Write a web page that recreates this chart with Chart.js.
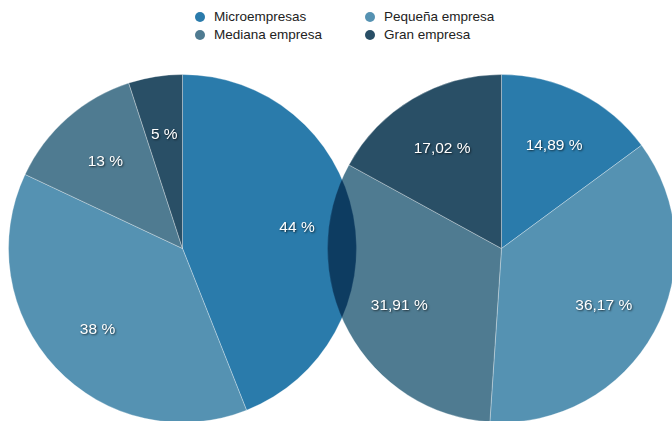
<!DOCTYPE html>
<html>
<head>
<meta charset="utf-8">
<script src="https://cdn.jsdelivr.net/npm/chart.js@4/dist/chart.umd.min.js"></script>
<style>
  html, body { margin: 0; padding: 0; background: #fff; width: 672px; height: 421px; overflow: hidden; position: relative; }
  canvas { position: absolute; }
  #pieLeft { left: 8px; top: 74px; }
  #pieRight { left: 327px; top: 74px; mix-blend-mode: multiply; }
  #legend { position: absolute; left: 195px; top: 9px; margin: 0; padding: 0; list-style: none;
    display: grid; grid-template-columns: 170px 140px; row-gap: 3px;
    font: 13.5px "Helvetica Neue", Helvetica, "Liberation Sans", Arial, sans-serif; color: #222; }
  #legend li { display: flex; align-items: center; height: 15px; }
  #legend span { display: inline-block; width: 10px; height: 10px; border-radius: 50%; margin-right: 9px; }
</style>
</head>
<body>
<ul id="legend"></ul>
<canvas id="pieLeft" width="349" height="349"></canvas>
<canvas id="pieRight" width="349" height="349"></canvas>
<script>
// datos
const categorias = ["Microempresas", "Pequeña empresa", "Mediana empresa", "Gran empresa"];
const valoresIzq = [44, 38, 13, 5];
const valoresDer = [14.89, 36.17, 31.91, 17.02];
const colores = ["#2a7bab", "#5592b2", "#4f7b91", "#294f66"];

// etiquetas de porcentaje dentro de cada porción
const etiquetas = {
    id: "etiquetas",
    afterDatasetsDraw(chart) {
        const ctx = chart.ctx;
        const meta = chart.getDatasetMeta(0);
        const datos = chart.data.datasets[0].data;
        ctx.save();
        ctx.font = "15.5px 'Helvetica Neue', Helvetica, 'Liberation Sans', Arial, sans-serif";
        ctx.fillStyle = "#fff";
        ctx.textAlign = "center";
        ctx.textBaseline = "middle";
        ctx.shadowColor = "rgba(0,0,0,0.65)";
        ctx.shadowBlur = 2;
        ctx.shadowOffsetX = 1;
        ctx.shadowOffsetY = 1;
        meta.data.forEach((arc, i) => {
            const a = (arc.startAngle + arc.endAngle) / 2;
            const r = arc.outerRadius * 0.67;
            const texto = String(datos[i]).replace(".", ",") + " %";
            ctx.fillText(texto, arc.x + Math.cos(a) * r, arc.y + Math.sin(a) * r + 1);
        });
        ctx.restore();
    },
};

// leyenda html
const leyendaHtml = {
    id: "leyendaHtml",
    afterUpdate(chart) {
        const ul = document.querySelector("#legend");
        ul.innerHTML = "";
        const items = chart.options.plugins.legend.labels.generateLabels(chart);
        items.forEach((item) => {
            const li = document.createElement("li");
            const box = document.createElement("span");
            box.style.background = item.fillStyle;
            li.appendChild(box);
            li.appendChild(document.createTextNode(item.text));
            ul.appendChild(li);
        });
    },
};

function opciones() {
    return {
        responsive: false,
        animation: false,
        layout: { padding: 0 },
        plugins: {
            legend: { display: false },
            tooltip: { enabled: false },
        },
    };
}

const pieLeft = document.querySelector("#pieLeft");
const graph1 = new Chart(pieLeft, {
    type: "pie",
    data: {
        labels: categorias,
        datasets: [
            {
                data: valoresIzq,
                backgroundColor: colores,
                borderColor: "rgba(255,255,255,0.3)",
                borderWidth: 1,
                hoverOffset: 0,
            },
        ],
    },
    options: opciones(),
    plugins: [etiquetas, leyendaHtml],
});

const pieRight = document.querySelector("#pieRight");
const graph2 = new Chart(pieRight, {
    type: "pie",
    data: {
        labels: categorias,
        datasets: [
            {
                data: valoresDer,
                backgroundColor: colores,
                borderColor: "rgba(255,255,255,0.3)",
                borderWidth: 1,
                hoverOffset: 0,
            },
        ],
    },
    options: opciones(),
    plugins: [etiquetas],
});
</script>
</body>
</html>
